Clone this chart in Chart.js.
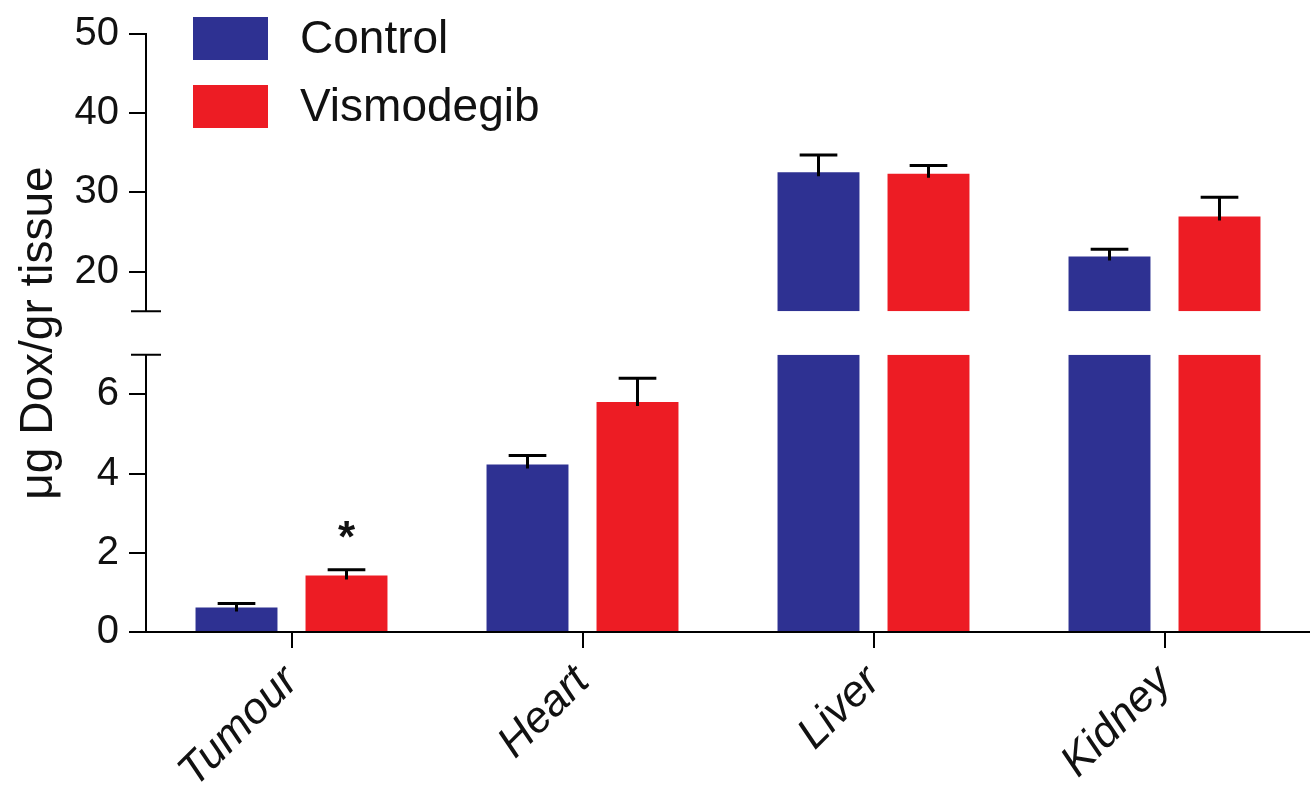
<!DOCTYPE html>
<html>
<head>
<meta charset="utf-8">
<script src="https://cdn.jsdelivr.net/npm/chart.js@4.4.1/dist/chart.umd.min.js"></script>
<style>
  html, body { margin: 0; padding: 0; background: #fff; }
  #wrap { width: 1310px; height: 791px; }
</style>
</head>
<body>
<div id="wrap"><canvas id="chart"></canvas></div>
<script>
// data
const tissues = ["Tumour", "Heart", "Liver", "Kidney"];
const seriesNames = ["Control", "Vismodegib"];
const controlMeans = [0.62, 4.23, 32.55, 21.9];
const controlSem = [0.10, 0.23, 2.18, 0.93];
const vismoMeans = [1.43, 5.81, 32.34, 26.94];
const vismoSem = [0.14, 0.60, 1.04, 2.45];
const vismoSignif = ["*", "", "", ""];

// broken axis: lower and upper segments
const lowRange = [0, 7];
const highRange = [15, 50];
const lowTickStep = 2;
const highTickStep = 10;

const BLUE = "#2E3192";
const RED = "#ED1C24";
const FONT = "'Liberation Sans', Arial, sans-serif";

Chart.defaults.font.family = FONT;
Chart.defaults.color = "#111";

const lowPart = (arr) => arr.map(v => Math.min(v, lowRange[1]));
const highPart = (arr) => arr.map(v => v > highRange[0] ? v : null);

const errorBars = {
  id: "errorBars",
  afterDatasetsDraw(chart) {
    const ctx = chart.ctx;
    ctx.save();
    ctx.strokeStyle = "#000";
    ctx.lineWidth = 3;
    [[controlMeans, controlSem, 0], [vismoMeans, vismoSem, 1]].forEach(([means, sem, s]) => {
      means.forEach((m, j) => {
        const upper = m > lowRange[1];
        const meta = chart.getDatasetMeta(upper ? s + 2 : s);
        const scale = chart.scales[upper ? "yHigh" : "yLow"];
        const bar = meta.data[j];
        const y0 = scale.getPixelForValue(m) + 4;
        const y1 = scale.getPixelForValue(m + sem[j]);
        const half = bar.width * 0.23;
        ctx.beginPath();
        ctx.moveTo(bar.x, y0);
        ctx.lineTo(bar.x, y1);
        ctx.moveTo(bar.x - half, y1);
        ctx.lineTo(bar.x + half, y1);
        ctx.stroke();
      });
    });
    // significance stars
    ctx.fillStyle = "#111";
    ctx.font = "bold 44px " + FONT;
    ctx.textAlign = "center";
    ctx.textBaseline = "alphabetic";
    vismoSignif.forEach((mark, j) => {
      if (!mark) return;
      const m = vismoMeans[j];
      const upper = m > lowRange[1];
      const bar = chart.getDatasetMeta(upper ? 3 : 1).data[j];
      const scale = chart.scales[upper ? "yHigh" : "yLow"];
      ctx.fillText(mark, bar.x, scale.getPixelForValue(m + vismoSem[j]) - 18);
    });
    ctx.restore();
  },
  afterDraw(chart) {
    const ctx = chart.ctx;
    const area = chart.chartArea;
    const hi = chart.scales.yHigh, lo = chart.scales.yLow;
    ctx.save();
    // break caps
    ctx.strokeStyle = "#000";
    ctx.lineWidth = 2;
    ctx.beginPath();
    ctx.moveTo(area.left - 15, hi.bottom);
    ctx.lineTo(area.left + 15, hi.bottom);
    ctx.moveTo(area.left - 15, lo.top);
    ctx.lineTo(area.left + 15, lo.top);
    ctx.stroke();

    // y axis title
    ctx.fillStyle = "#111";
    ctx.font = "46px " + FONT;
    ctx.translate(area.left - 94, (hi.top + lo.bottom) / 2);
    ctx.rotate(-Math.PI / 2);
    ctx.textAlign = "center";
    ctx.textBaseline = "alphabetic";
    ctx.fillText("\u03BCg Dox/gr tissue", 0, 0);
    ctx.restore();

    // legend
    ctx.save();
    ctx.font = "46px " + FONT;
    ctx.textBaseline = "middle";
    ctx.textAlign = "left";
    seriesNames.forEach((name, i) => {
      const x = area.left + 47;
      const y = area.top - 17 + i * 68;
      ctx.fillStyle = chart.data.datasets[i].backgroundColor;
      ctx.fillRect(x, y, 75, 43);
      ctx.fillStyle = "#111";
      ctx.fillText(name, x + 107, y + 23);
    });
    ctx.restore();
  }
};

const fixedWidth = (scale) => { scale.width = 146; };

const yCommon = {
  type: "linear",
  position: "left",
  stack: "y",
  border: { display: true, color: "#000", width: 2 },
  grid: { drawOnChartArea: false, drawTicks: true, tickLength: 17, color: "#000", lineWidth: 2 },
  ticks: { font: { size: 40 }, color: "#111", padding: 10, includeBounds: false },
  afterFit: fixedWidth
};

new Chart(document.getElementById("chart"), {
  type: "bar",
  data: {
    labels: tissues,
    datasets: [
      { label: seriesNames[0], data: lowPart(controlMeans), backgroundColor: BLUE, yAxisID: "yLow", stack: "c" },
      { label: seriesNames[1], data: lowPart(vismoMeans), backgroundColor: RED, yAxisID: "yLow", stack: "v" },
      { label: seriesNames[0], data: highPart(controlMeans), backgroundColor: BLUE, yAxisID: "yHigh", stack: "c", base: highRange[0] },
      { label: seriesNames[1], data: highPart(vismoMeans), backgroundColor: RED, yAxisID: "yHigh", stack: "v", base: highRange[0] }
    ]
  },
  options: {
    responsive: true,
    maintainAspectRatio: false,
    animation: false,
    categoryPercentage: 0.756,
    barPercentage: 0.745,
    layout: { padding: { top: 34, left: 0, right: 0, bottom: 0 } },
    plugins: {
      legend: { display: false },
      tooltip: { enabled: false },
      title: { display: false }
    },
    scales: {
      x: {
        border: { display: true, color: "#000", width: 2 },
        grid: { offset: false, drawOnChartArea: false, drawTicks: true, tickLength: 16, color: "#000", lineWidth: 2 },
        ticks: {
          font: { size: 44, style: "italic" },
          color: "#111",
          minRotation: 45,
          maxRotation: 45,
          autoSkip: false,
          padding: 8
        },
        afterFit: (scale) => { scale.height = 159; }
      },
      yLow: Object.assign({}, yCommon, {
        min: lowRange[0], max: lowRange[1], stackWeight: 277.3, stacked: false,
        ticks: Object.assign({}, yCommon.ticks, { stepSize: lowTickStep })
      }),
      yGap: {
        type: "linear",
        position: "left",
        stack: "y",
        stackWeight: 43.7,
        border: { display: false },
        grid: { display: false },
        ticks: { display: false },
        afterFit: fixedWidth
      },
      yHigh: Object.assign({}, yCommon, {
        min: highRange[0], max: highRange[1], stackWeight: 277.3, stacked: false,
        ticks: Object.assign({}, yCommon.ticks, { stepSize: highTickStep })
      })
    }
  },
  plugins: [errorBars]
});
</script>
</body>
</html>
